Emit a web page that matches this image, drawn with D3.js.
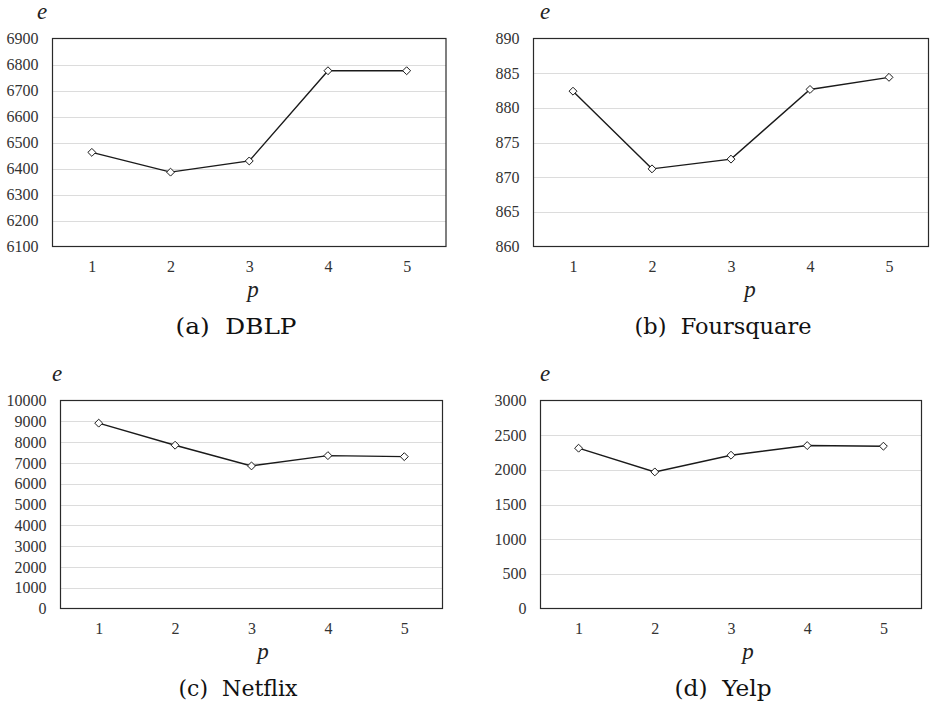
<!DOCTYPE html>
<html>
<head>
<meta charset="utf-8">
<script src="https://d3js.org/d3.v7.min.js"></script>
<style>
  body { margin: 0; background: #fff; }
  svg { display: block; }
  .serif { font-family: "Liberation Serif", "Times New Roman", serif; }
  .cap { font-family: "DejaVu Serif", serif; }
</style>
</head>
<body>
<script>
var w = 930;
var h = 705;

// x categories (p)
var pValues = [1, 2, 3, 4, 5];

// e values per dataset
var dblpValues = [6462, 6386, 6429, 6776, 6776];
var foursquareValues = [882.4, 871.2, 872.6, 882.65, 884.4];
var netflixValues = [8911, 7850, 6855, 7350, 7300];
var yelpValues = [2312, 1970, 2211, 2350, 2341];

// y tick labels
var dblpTicks = [6100, 6200, 6300, 6400, 6500, 6600, 6700, 6800, 6900];
var foursquareTicks = [860, 865, 870, 875, 880, 885, 890];
var netflixTicks = [0, 1000, 2000, 3000, 4000, 5000, 6000, 7000, 8000, 9000, 10000];
var yelpTicks = [0, 500, 1000, 1500, 2000, 2500, 3000];

var captions = ["(a)  DBLP", "(b)  Foursquare", "(c)  Netflix", "(d)  Yelp"];

// panel boxes
var panels = [
    { values: dblpValues, ticks: dblpTicks, caption: captions[0],
      box: { left: 52.5, right: 446, top: 38.5, bottom: 246.5 }, eX: 42, pX: 253, capX: 236, capW: 121 },
    { values: foursquareValues, ticks: foursquareTicks, caption: captions[1],
      box: { left: 533.5, right: 928.5, top: 38.5, bottom: 246.5 }, eX: 545, pX: 750, capX: 723, capW: 177 },
    { values: netflixValues, ticks: netflixTicks, caption: captions[2],
      box: { left: 60.5, right: 442.5, top: 400.5, bottom: 608.5 }, eX: 57, pX: 263, capX: 238, capW: 119 },
    { values: yelpValues, ticks: yelpTicks, caption: captions[3],
      box: { left: 540.5, right: 921.5, top: 400.5, bottom: 608.5 }, eX: 545, pX: 748, capX: 723, capW: 97 }
];

var svg = d3.select("body")
    .append("svg")
    .attr("width", w)
    .attr("height", h);

panels.forEach(function(pn){
    var b = pn.box;
    var g = svg.append("g");

    var x = d3.scalePoint()
        .domain(pValues)
        .range([b.left, b.right])
        .padding(0.5);

    var y = d3.scaleLinear()
        .domain(d3.extent(pn.ticks))
        .range([b.bottom, b.top]);

    // grid lines
    g.selectAll(".grid")
        .data(pn.ticks.slice(1, -1))
        .enter()
        .append("line")
        .attr("x1", b.left)
        .attr("x2", b.right)
        .attr("y1", function(d){ return Math.round(y(d)) + 0.5; })
        .attr("y2", function(d){ return Math.round(y(d)) + 0.5; })
        .attr("stroke", "#dcdcdc")
        .attr("stroke-width", 1);

    // frame
    g.append("rect")
        .attr("x", b.left)
        .attr("y", b.top)
        .attr("width", b.right - b.left)
        .attr("height", b.bottom - b.top)
        .attr("fill", "none")
        .attr("stroke", "#2a2a2a")
        .attr("stroke-width", 1.2);

    // y axis
    var yAxis = g.append("g")
        .attr("transform", "translate(" + (b.left - 14) + ",0)")
        .call(d3.axisLeft(y).tickValues(pn.ticks).tickSize(0).tickPadding(0).tickFormat(d3.format("d")));
    yAxis.attr("font-family", null).attr("font-size", null);
    yAxis.select(".domain").remove();
    yAxis.selectAll("text")
        .attr("class", "serif")
        .style("font-size", "16px")
        .attr("fill", "#333");

    // x axis
    var xAxis = g.append("g")
        .attr("transform", "translate(0," + (b.bottom + 14) + ")")
        .call(d3.axisBottom(x).tickSize(0).tickPadding(0));
    xAxis.attr("font-family", null).attr("font-size", null);
    xAxis.select(".domain").remove();
    xAxis.selectAll("text")
        .attr("class", "serif")
        .style("font-size", "16px")
        .attr("fill", "#333");

    // line
    var line = d3.line()
        .x(function(d, i){ return x(pValues[i]); })
        .y(function(d){ return y(d); });

    g.append("path")
        .datum(pn.values)
        .attr("d", line)
        .attr("fill", "none")
        .attr("stroke", "#1a1a1a")
        .attr("stroke-width", 1.4);

    // diamond markers
    var diamond = d3.symbol().type(d3.symbolDiamond2).size(40);
    g.selectAll(".pt")
        .data(pn.values)
        .enter()
        .append("path")
        .attr("d", diamond)
        .attr("transform", function(d, i){ return "translate(" + x(pValues[i]) + "," + y(d) + ")"; })
        .attr("fill", "#fff")
        .attr("stroke", "#1a1a1a")
        .attr("stroke-width", 1);

    // axis titles
    g.append("text")
        .attr("class", "serif")
        .attr("x", pn.eX)
        .attr("y", b.top - 20)
        .attr("text-anchor", "middle")
        .style("font-style", "italic")
        .style("font-size", "23px")
        .attr("fill", "#222")
        .text("e");

    g.append("text")
        .attr("class", "serif")
        .attr("x", pn.pX)
        .attr("y", b.bottom + 50)
        .attr("text-anchor", "middle")
        .style("font-style", "italic")
        .style("font-size", "23px")
        .attr("fill", "#222")
        .text("p");

    // caption
    g.append("text")
        .attr("class", "cap")
        .attr("x", pn.capX)
        .attr("y", b.bottom + 87)
        .attr("text-anchor", "middle")
        .attr("textLength", pn.capW)
        .attr("lengthAdjust", "spacingAndGlyphs")
        .style("font-size", "23px")
        .style("white-space", "pre")
        .attr("fill", "#111")
        .text(pn.caption);
});
</script>
</body>
</html>
